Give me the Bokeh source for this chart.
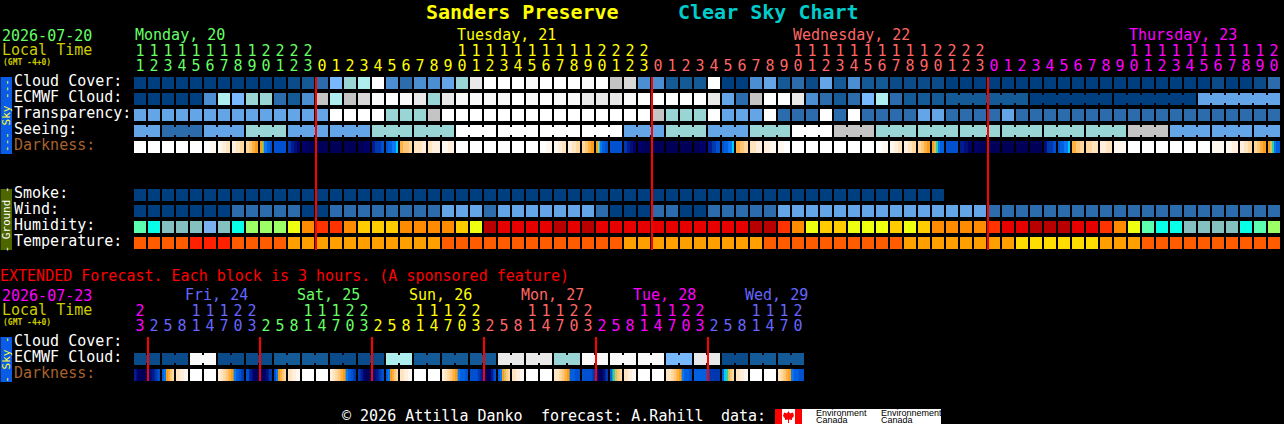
from math import pi
from bokeh.core.properties import value
from bokeh.embed import file_html
from bokeh.models import ColumnDataSource, Range1d
from bokeh.plotting import figure
from bokeh.resources import INLINE

# ---------- categories and labels ----------
TITLE_LEFT = "Sanders Preserve"
TITLE_RIGHT = "Clear Sky Chart"
SKY_ROWS = ["Cloud Cover:", "ECMWF Cloud:", "Transparency:", "Seeing:"]
GROUND_ROWS = ["Smoke:", "Wind:", "Humidity:", "Temperature:"]
EXT_ROWS = ["Cloud Cover:", "ECMWF Cloud:"]
MAIN_DAYS = ["Monday, 20", "Tuesday, 21", "Wednesday, 22", "Thursday, 23"]
EXT_DAYS = ["Fri, 24", "Sat, 25", "Sun, 26", "Mon, 27", "Tue, 28", "Wed, 29"]
MAIN_HOURS = [11, 12, 13, 14, 15, 16, 17, 18, 19, 20, 21, 22, 23,
              0, 1, 2, 3, 4, 5, 6, 7, 8, 9, 10, 11, 12, 13, 14, 15, 16, 17, 18, 19, 20, 21, 22, 23,
              0, 1, 2, 3, 4, 5, 6, 7, 8, 9, 10, 11, 12, 13, 14, 15, 16, 17, 18, 19, 20, 21, 22, 23,
              0, 1, 2, 3, 4, 5, 6, 7, 8, 9, 10, 11, 12, 13, 14, 15, 16, 17, 18, 19, 20]
EXT_HOURS = [23,
             2, 5, 8, 11, 14, 17, 20, 23, 2, 5, 8, 11, 14, 17, 20, 23,
             2, 5, 8, 11, 14, 17, 20, 23, 2, 5, 8, 11, 14, 17, 20, 23,
             2, 5, 8, 11, 14, 17, 20, 23, 2, 5, 8, 11, 14, 17, 20]

# ---------- series: levels ----------
CLOUD_COVER = [0, 0, 0, 0, 0, 0, 0, 0, 0, 0, 0, 1, 2, 3, 6, 7, 8, 13, 4, 3,
               4, 4, 5, 7, 11, 13, 13, 13, 12, 13, 13, 13, 12, 13, 9, 10, 4, 4, 2, 2,
               2, 13, 0, 0, 4, 5, 2, 3, 1, 5, 2, 4, 2, 2, 1, 1, 1, 1, 0, 0,
               0, 0, 0, 0, 0, 0, 0, 0, 0, 0, 0, 0, 0, 0, 0, 0, 0, 1, 0, 0, 1, 3]
# one value per block of ECMWF_SPANS cells
ECMWF_CLOUD = [0, 0, 0, 0, 0, 4, 8, 6, 7, 7, 3, 2, 4, 9, 8, 9, 10, 12, 13, 12,
               11, 7, 11, 12, 12, 12, 12, 13, 12, 13, 12, 12, 11, 11, 11, 12, 13, 13, 13, 13,
               13, 11, 5, 3, 9, 13, 13, 11, 4, 3, 2, 3, 6, 8, 3, 2, 2, 2, 2, 0, 0, 5]
ECMWF_SPANS = [1, 1, 1, 1, 1, 1, 1, 1, 1, 1, 1, 1, 1, 1, 1, 1, 1, 1, 1, 1,
               1, 1, 1, 1, 1, 1, 1, 1, 1, 1, 1, 1, 1, 1, 1, 1, 1, 1, 1, 1,
               1, 1, 1, 1, 1, 1, 1, 1, 1, 1, 1, 1, 1, 1, 1, 1, 1, 1, 6, 6, 6, 6]
TRANSPARENCY = [5, 5, 5, 5, 5, 5, 5, 5, 5, 5, 5, 5, 5, 5, 13, 13, 13, 13, 7, 7,
                7, 9, 13, 13, 13, 13, 13, 13, 13, 13, 13, 13, 13, 13, 13, 13, 13, 9, 7, 7,
                7, 13, 5, 5, 5, 13, 3, 3, 3, 13, 3, 13, 3, 3, 3, 3, 5, 5, 3, 3,
                3, 3, 5, 3, 3, 3, 3, 3, 3, 3, 3, 3, 3, 3, 3, 3, 3, 3, 3, 3, 3, 3]
SEEING = [5, 3, 5, 7, 5, 5, 7, 7, 13, 13, 13, 13, 5, 7, 5, 7, 13, 9, 7, 7, 7, 7, 7, 7, 9, 5, 5, 5]
SEEING_SPANS = [2, 3, 3, 3, 3, 3, 3, 3, 3, 3, 3, 3, 3, 3, 3, 3, 3, 3, 3, 3, 3, 3, 3, 3, 3, 3, 3, 2]
SMOKE = [0, 0, 0, 0, 0, 0, 0, 0, 0, 0, 0, 0, 0, 0, 0, 0, 0, 0, 0, 0,
         0, 0, 0, 0, 0, 0, 0, 0, 0, 0, 0, 0, 0, 0, 0, 0, 0, 0, 0, 0,
         0, 0, 0, 0, 0, 0, 0, 0, 0, 0, 0, 0, 0, 0, 0, 0, 0, 0]
WIND = [0, 0, 0, 0, 0, 0, 0, 3, 3, 3, 3, 3, 0, 0, 3, 3, 3, 3, 3, 3,
        3, 3, 5, 5, 5, 3, 5, 5, 5, 5, 5, 5, 5, 3, 0, 0, 0, 3, 3, 0,
        0, 3, 3, 3, 3, 3, 5, 5, 5, 5, 5, 5, 5, 5, 5, 5, 5, 5, 5, 5,
        5, 3, 3, 3, 3, 3, 3, 3, 3, 3, 3, 3, 3, 3, 3, 3, 3, 3, 3, 3, 3, 3]
HUMIDITY = [0, 1, 2, 2, 2, 3, 2, 1, 4, 4, 4, 5, 7, 8, 8, 7, 6, 6, 6, 7,
            7, 7, 7, 6, 5, 10, 9, 9, 9, 9, 10, 9, 10, 9, 9, 9, 9, 9, 9, 9,
            9, 9, 9, 9, 10, 10, 8, 7, 5, 6, 6, 5, 5, 5, 6, 5, 6, 7, 7, 7,
            7, 8, 9, 9, 10, 10, 10, 9, 9, 8, 7, 5, 0, 1, 1, 2, 2, 2, 2, 1, 0, 4]
TEMPERATURE = [1, 1, 1, 1, 0, 0, 0, 1, 1, 1, 1, 2, 2, 2, 2, 2, 2, 2, 2, 2,
               2, 2, 1, 1, 1, 1, 1, 1, 1, 1, 1, 1, 1, 1, 1, 2, 2, 2, 2, 2,
               2, 2, 2, 2, 2, 1, 1, 1, 1, 1, 1, 1, 1, 1, 1, 2, 2, 2, 2, 2,
               2, 2, 2, 3, 3, 3, 3, 3, 3, 2, 2, 2, 1, 1, 1, 1, 1, 1, 1, 1, 1, 1]
# Darkness: per cell, the shades seen from the left to the right edge of the cell
DARKNESS = [[0], [0], [0], [0], [0], [0, 1], [1, 2, 3], [2, 3, 4], [4, 5, 6, 7],
            [7, 7, 7, 9, 11, 11, 11, 12, 12, 12, 13, 13], [13], [14, 15, 16, 17], [17, 18],
            [18], [18], [18], [18, 17], [15, 14, 14, 13], [13, 12, 12, 11, 11, 10], [6, 5, 5, 4], [3, 3, 2],
            [3, 2, 2], [1, 2], [0], [0], [0], [0], [0], [0], [0, 1], [1, 2, 3], [2, 3, 4], [4, 5, 6, 7],
            [7, 7, 8, 10, 11, 11, 12, 12, 12, 13, 13, 13], [13], [14, 15, 16, 17], [17, 18],
            [18], [18], [18], [18, 17], [15, 14, 13], [13, 12, 12, 11, 11, 10], [6, 5, 4], [3, 2], [2, 1], [1, 0],
            [0], [0], [0], [0], [0], [0], [0, 1], [1, 2, 3], [2, 3, 4], [4, 5, 6, 7],
            [7, 8, 9, 11, 12, 12], [13], [15, 16, 17], [17, 18],
            [18], [18], [18], [18], [16, 14, 14, 13], [13, 12, 12, 11, 11, 10], [6, 5, 4], [4, 3], [2, 3], [1, 1],
            [0], [0], [0], [0], [0], [0], [1], [1, 2], [2, 3, 4], [4, 5, 6, 7], [7, 8, 9, 11, 12, 12]]
EXT_ECMWF = [1, 1, 12, 1, 1, 2, 2, 1, 1, 8, 2, 2, 2, 11, 11, 7, 12, 12, 12, 6, 11, 1, 2, 2]
EXT_ECMWF_SPANS = [2, 2, 2, 2, 2, 2, 2, 2, 2, 2, 2, 2, 2, 2, 2, 2, 2, 2, 2, 2, 2, 2, 2, 2]
EXT_DARKNESS = [[15, 17, 18, 18, 18, 17, 16, 15, 14, 13], [12, 11, 7, 6, 5, 4], [3, 2, 1], [0], [0],
                [2, 3, 4, 5, 6, 7, 11, 12, 13, 14], [13, 15, 17, 18, 18, 17, 16, 14], [13, 11, 7, 6, 5, 4], [3, 2, 1], [0], [0],
                [2, 3, 4, 5, 6, 7, 11, 12, 13, 14], [14, 15, 17, 18, 18, 17, 16, 15, 14, 13], [12, 11, 7, 6, 5, 4], [3, 2, 1], [0], [0],
                [2, 3, 4, 5, 6, 7, 11, 12, 12, 13], [13, 13, 13, 14, 15, 17, 18, 18, 15, 13], [12, 11, 7, 8, 5, 4], [3, 2, 1], [0], [0],
                [3, 3, 4, 5, 6, 7, 12, 12, 13, 13], [13, 13, 13, 13, 14, 15, 17, 18, 16, 14], [12, 9, 8, 5, 4], [3, 2, 1], [0], [0],
                [3, 3, 4, 5, 6, 7, 11, 12, 12, 13], [12, 12, 12, 12, 12, 13, 14, 14, 14, 14], [12, 10, 9, 8, 5, 4], [3, 2, 1], [0], [0],
                [3, 4, 5, 6, 7, 11, 12, 12, 13, 13]]
EXT_DARKNESS_SPANS = [2, 1, 1, 1, 1, 2, 2, 1, 1, 1, 1, 2, 2, 1, 1, 1, 1, 2, 2, 1, 1, 1, 1, 2, 2, 1, 1, 1, 1, 2, 2, 1, 1, 1, 1, 2]

# ---------- colour scales ----------
SKY_COLORS = ["#003f7f", "#0c4b8a", "#135a97", "#2c6cac", "#4b8ed1", "#63a5e6", "#77b8ff",
              "#99d5d5", "#aeeeee", "#c4c4c4", "#d8d8d8", "#e9e9e9", "#f9f9f9", "#ffffff"]
HUMIDITY_COLORS = ["#5cffb0", "#08ffe8", "#85c0c0", "#7bb0f0", "#9cff66", "#eeff10",
                   "#ffcc00", "#ff8c00", "#ff3300", "#e60000", "#b80000"]
TEMPERATURE_COLORS = ["#ff2000", "#ff5c00", "#ffa000", "#ffdd00"]
DARK_COLORS = ["#ffffff", "#fff8ee", "#ffefdc", "#ffe4c0", "#ffd8a0", "#ffc878", "#ffb040",
               "#f99e1a", "#d8c060", "#30d0a0", "#00ccff", "#0a78f0", "#0060e0", "#0050d0",
               "#0038b0", "#001c90", "#001078", "#000068", "#000058"]
GREEN, YELLOW, SALMON, MAGENTA, BLUE = "#66ff66", "#ffff00", "#ff6666", "#ff00ff", "#6666ff"
MAIN_DAY_COLORS = [GREEN, YELLOW, SALMON, MAGENTA]
EXT_DAY_COLORS = [MAGENTA, BLUE, GREEN, YELLOW, SALMON, MAGENTA, BLUE]
OLIVE_TEXT, BROWN, RED = "#cccc00", "#a8622c", "#ff0000"

W, H = 1284, 424
GRID_X, PITCH, CELL = 134, 14, 12
MONO = "DejaVu Sans Mono"

# the SVG layer is drawn half a pixel off: ranges start half a pixel later to land on whole pixels
p = figure(width=W, height=H, x_range=Range1d(0.5, W + 0.5), y_range=Range1d(H + 0.5, 0.5),
           x_axis_location=None, y_axis_location=None, toolbar_location=None,
           output_backend="svg", min_border=0, background_fill_color="#000000",
           border_fill_color="#000000", outline_line_color=None)
p.grid.visible = False
p.styles = {"position": "fixed", "left": "0px", "top": "0px", "background-color": "#000000"}


def boxes(x0, x1, y0, y1, colors):
    src = ColumnDataSource(dict(l=x0, r=x1, t=y0, b=y1, c=colors))
    p.quad(left="l", right="r", top="t", bottom="b", fill_color="c", line_color=None, source=src)


def cells(values, palette, top):
    lefts = [GRID_X + PITCH * i for i in range(len(values))]
    boxes(lefts, [x + CELL for x in lefts], [top] * len(values), [top + CELL] * len(values),
          [palette[v] for v in values])


def joined(values, spans, palette, top):
    """Cells that belong to one forecast block are tied by a narrower bridge."""
    i = 0
    bl, br, bc = [], [], []
    for v, n in zip(values, spans):
        cells_here = [GRID_X + PITCH * (i + k) for k in range(n)]
        boxes(cells_here, [x + CELL for x in cells_here], [top] * n, [top + CELL] * n, [palette[v]] * n)
        for x in cells_here[:-1]:
            bl.append(x + CELL)
            br.append(x + PITCH)
            bc.append(palette[v])
        i += n
    if bl:
        boxes(bl, br, [top + 2] * len(bl), [top + CELL - 2] * len(bl), bc)


def shades(samples, spans, top):
    i = 0
    l, r, c = [], [], []
    for s, n in zip(samples, spans):
        x0 = GRID_X + PITCH * i
        w = PITCH * n - (PITCH - CELL)
        for k, v in enumerate(s):
            l.append(x0 + w * k / len(s))
            r.append(x0 + w)            # later shades paint over, so no seams
            c.append(DARK_COLORS[v])
        i += n
    boxes(l, r, [top] * len(l), [top + CELL] * len(l), c)


def write(x, y, txt, color, size=15, style="normal", align="left", angle=0.0, font=MONO):
    p.text(x=[x], y=[y], text=[txt], text_color=color, text_font=value(font),
           text_font_size=f"{size}px", text_font_style=style, text_align=align,
           text_baseline="middle", angle=angle)


def hour_digits(hours, colors, y_tens, y_ones):
    for i, (h, col) in enumerate(zip(hours, colors)):
        x = GRID_X + PITCH * i + CELL / 2
        if h >= 10:
            write(x, y_tens, str(h // 10), col, align="center")
        write(x, y_ones, str(h % 10), col, align="center")


def day_colors(hours, palette, first_hour):
    out, day = [], 0
    for i, h in enumerate(hours):
        if i > 0 and h == first_hour:
            day += 1
        out.append(palette[day])
    return out


def red_marks(hours, first_hour, y0, y1):
    xs = [GRID_X + PITCH * i for i, h in enumerate(hours) if i > 0 and h == first_hour]
    boxes([x - 1 for x in xs], [x + 1 for x in xs], [y0] * len(xs), [y1] * len(xs), [RED] * len(xs))


# ---------- title ----------
write(426, 11.5, TITLE_LEFT, "#ffff00", size=20, style="bold")
write(678, 11.5, TITLE_RIGHT, "#00cccc", size=20, style="bold")

# ---------- main header ----------
write(2, 35, "2026-07-20", GREEN)
write(2, 50, "Local Time", OLIVE_TEXT)
write(3, 62, "(GMT -4+0)", OLIVE_TEXT, size=8, style="bold")
for name, i_cell, col in zip(MAIN_DAYS, [0, 23, 47, 71], MAIN_DAY_COLORS):
    write(GRID_X + PITCH * i_cell + 1, 35, name, col)
main_colors = day_colors(MAIN_HOURS, MAIN_DAY_COLORS, 0)
hour_digits(MAIN_HOURS, main_colors, 50, 65)

# ---------- side bars ----------
boxes([0], [12], [77], [154], ["#0a5ce6"])
boxes([0], [12], [189], [250], ["#4d6600"])
boxes([0], [12], [337], [382], ["#0a5ce6"])
write(6, 115.5, "--- Sky ---", "#ffff33", size=11, align="center", angle=pi / 2)
write(6, 219.5, "- Ground -", "#ffffff", size=11, align="center", angle=pi / 2)
write(6, 359.5, "- Sky -", "#ffff33", size=11, align="center", angle=pi / 2)

# ---------- row labels ----------
for name, y in zip(SKY_ROWS, [81, 97, 113, 129]):
    write(14, y, name, "#ffffff")
write(14, 145, "Darkness:", BROWN)
for name, y in zip(GROUND_ROWS, [193, 209, 225, 241]):
    write(14, y, name, "#ffffff")

# ---------- main grid ----------
cells(CLOUD_COVER, SKY_COLORS, 77)
joined(ECMWF_CLOUD, ECMWF_SPANS, SKY_COLORS, 93)
cells(TRANSPARENCY, SKY_COLORS, 109)
joined(SEEING, SEEING_SPANS, SKY_COLORS, 125)
shades(DARKNESS, [1] * len(DARKNESS), 141)
cells(SMOKE, SKY_COLORS, 189)
cells(WIND, SKY_COLORS, 205)
cells(HUMIDITY, HUMIDITY_COLORS, 221)
cells(TEMPERATURE, TEMPERATURE_COLORS, 237)
red_marks(MAIN_HOURS, 0, 77, 250)

# ---------- extended forecast ----------
write(0, 276, "EXTENDED Forecast. Each block is 3 hours. (A sponsored feature)", RED)
write(2, 295, "2026-07-23", MAGENTA)
write(2, 310, "Local Time", OLIVE_TEXT)
write(3, 322, "(GMT -4+0)", OLIVE_TEXT, size=8, style="bold")
ext_colors = day_colors(EXT_HOURS, EXT_DAY_COLORS, 2)
for name, i_cell, col in zip(EXT_DAYS, [4, 12, 20, 28, 36, 44], EXT_DAY_COLORS[1:]):
    write(GRID_X + PITCH * i_cell - 5, 295, name, col)
hour_digits(EXT_HOURS, ext_colors, 310, 325)
for name, y in zip(EXT_ROWS, [341, 357]):
    write(14, y, name, "#ffffff")
write(14, 373, "Darkness:", BROWN)
joined(EXT_ECMWF, EXT_ECMWF_SPANS, SKY_COLORS, 353)
shades(EXT_DARKNESS, EXT_DARKNESS_SPANS, 369)
red_marks(EXT_HOURS, 2, 337, 381)

# ---------- footer ----------
write(342, 415.5, "\u00a9 2026 Attilla Danko", "#ffffff")
write(541, 415.5, "forecast: A.Rahill", "#ffffff")
write(721, 415.5, "data:", "#ffffff")
boxes([775, 782, 795, 802], [782, 795, 802, 941], [409] * 4, [424] * 4,
      [RED, "#ffffff", RED, "#ffffff"])
leaf_x = [788.5, 790, 791, 793, 794, 792, 792, 789, 789, 788, 788, 785, 785, 783, 784, 786, 787]
leaf_y = [411, 413.5, 413, 412.5, 416, 418.5, 420, 419.5, 423, 423, 419.5, 420, 418.5, 416, 412.5, 413, 413.5]
p.patch(leaf_x, leaf_y, fill_color=RED, line_color=None)
SANS = "Liberation Sans"
write(816, 413, "Environment", "#000000", size=9, font=SANS)
write(816, 420, "Canada", "#000000", size=9, font=SANS)
write(881, 413, "Environnement", "#000000", size=9, font=SANS)
write(881, 420, "Canada", "#000000", size=9, font=SANS)

open("out.html", "w").write(file_html(p, INLINE))
